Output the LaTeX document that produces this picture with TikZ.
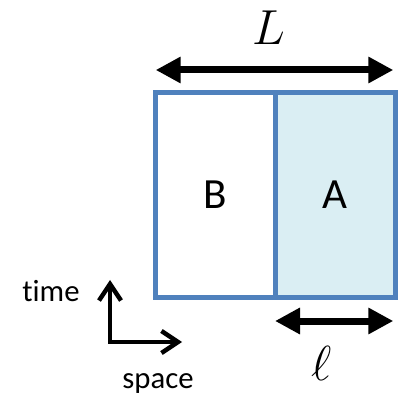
\documentclass[tikz,border=0pt]{standalone}
\usepackage{fix-cm}
\usepackage{fontspec}
\setmainfont{Carlito}[Ligatures=NoCommon]
\usetikzlibrary{arrows.meta}
\definecolor{regionLine}{HTML}{4F81BD}
\definecolor{regionFill}{HTML}{DAEEF3}
\tikzset{
  regionfig/.style={x=0.2mm, y=-0.2mm},
  region/.style={
    draw=regionLine, line width=1mm, minimum height=40.9mm,
    inner sep=0pt, font=\fontsize{24.5}{28}\selectfont,
  },
  regionA/.style={region, fill=regionFill, minimum width=23.84mm},
  regionB/.style={region, fill=white, minimum width=24.06mm},
  dimarrow/.style={
    draw=black, line width=1.4mm,
    {Triangle[length=5mm,width=5mm]}-{Triangle[length=5mm,width=5mm]},
  },
  % offene Pfeilspitzen fuer die Achsen
  axisarrow/.style={
    draw=black, line width=0.9mm, miter limit=4,
    {Straight Barb[length=3.3mm,width=4.4mm]}-{Straight Barb[length=3.3mm,width=4.4mm]},
  },
  dimlabel/.style={font=\fontsize{28}{32}\selectfont, inner sep=0pt, anchor=base},
  axislabel/.style={font=\fontsize{17.5}{20}\selectfont, inner sep=0pt, anchor=base},
}
\begin{document}
\begin{tikzpicture}[regionfig]
  \useasboundingbox (0,0) rectangle (399,395);
  \node[regionB] (RegionB) at (215.65,194.75) {B};
  \node[regionA] (RegionA) at (335.4,194.75) {A};
  \coordinate (LLeft) at (155.7,70);
  \coordinate (LRight) at (393.3,70);
  \coordinate (ellLeft) at (275,321);
  \coordinate (ellRight) at (393.3,321);
  \draw[dimarrow] (LLeft) -- (LRight);
  \draw[dimarrow] (ellLeft) -- (ellRight);
  \node[dimlabel] (LabelL) at (269,45) {$L$};
  \node[dimlabel] (LabelEll) at (322,380) {$\ell$};
  \coordinate (AxisOrigin) at (110,342);
  \coordinate (TimeTip) at (110,280);
  \coordinate (SpaceTip) at (182,342);
  \draw[axisarrow] (TimeTip) -- (AxisOrigin) -- (SpaceTip);
  \node[axislabel] (LabelTime) at (51,302) {time};
  \node[axislabel] (LabelSpace) at (158,388) {space};
\end{tikzpicture}
\end{document}
